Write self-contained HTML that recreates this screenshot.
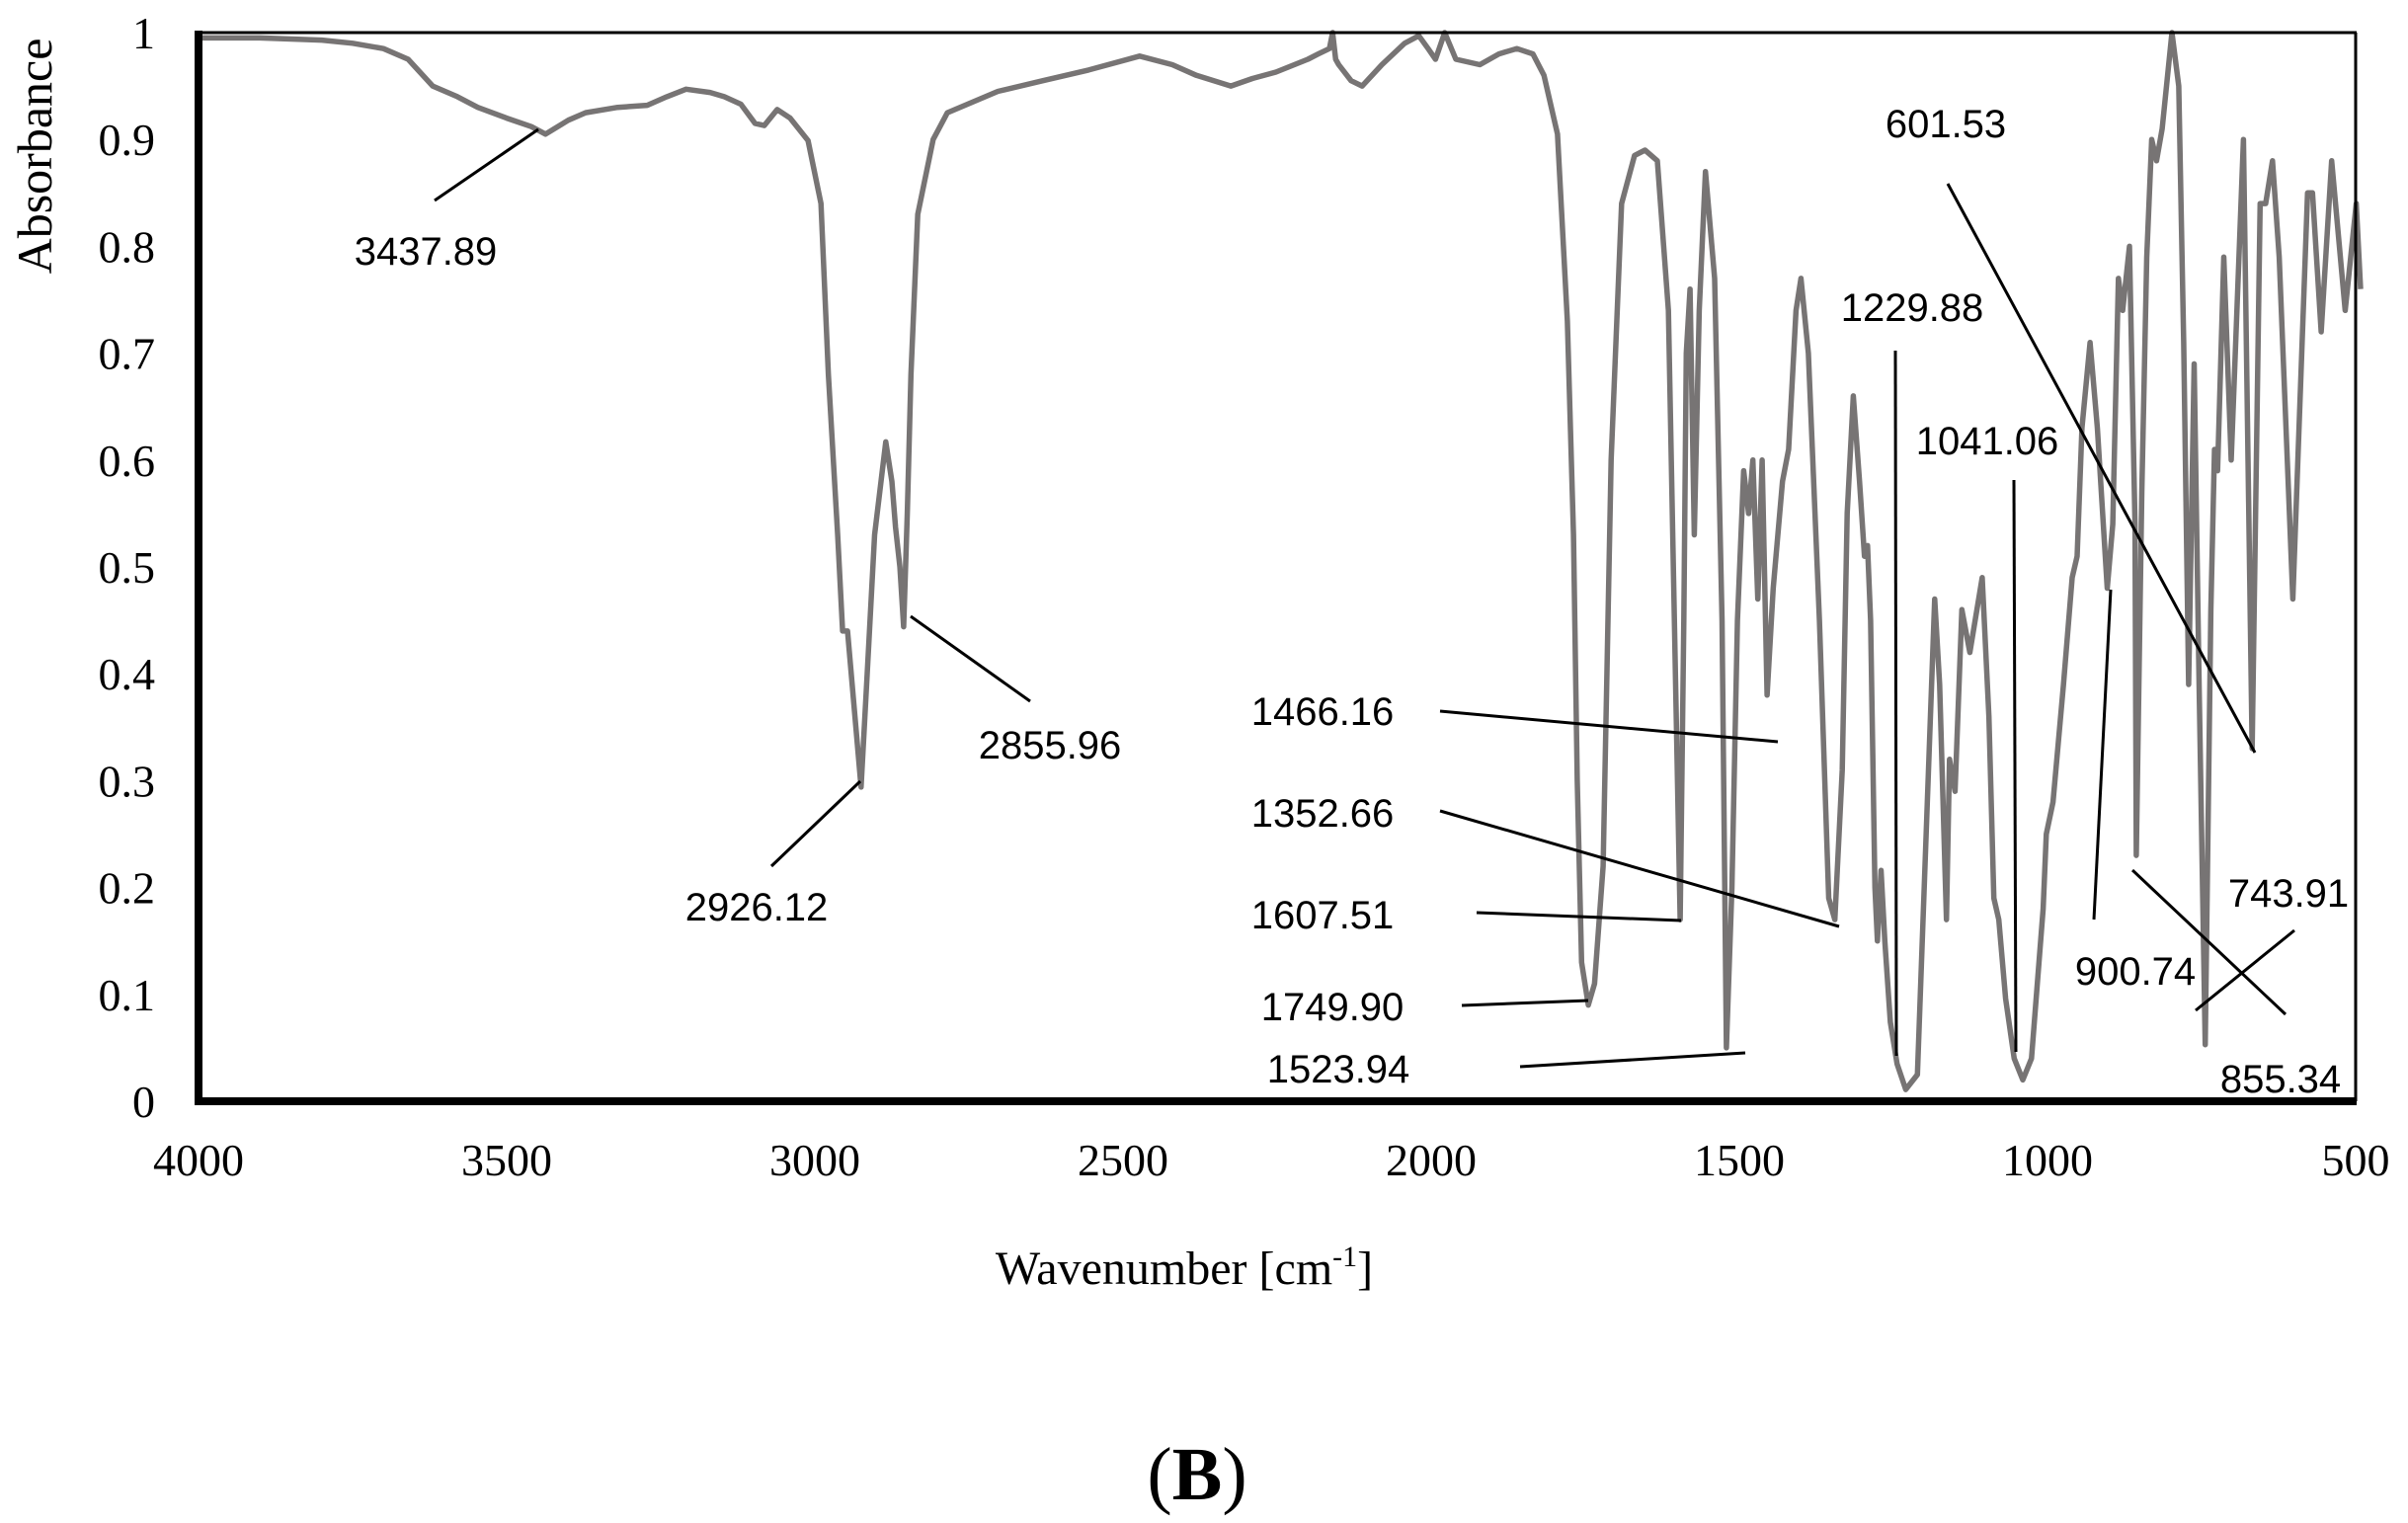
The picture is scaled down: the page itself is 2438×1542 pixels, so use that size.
<!DOCTYPE html>
<html><head><meta charset="utf-8"><style>
html,body{margin:0;padding:0;background:#fff;}
svg{display:block;}
.tick{font-family:"Liberation Serif",serif;font-size:46px;fill:#000;}
.ann{font-family:"Liberation Sans",sans-serif;font-size:40px;fill:#000;}
</style></head><body>
<svg id="chart" width="2438" height="1542" viewBox="0 0 2438 1542" xmlns="http://www.w3.org/2000/svg">
<rect x="0" y="0" width="2438" height="1542" fill="#fff"/>
<g id="spectrum"></g>
<line x1="201" y1="33" x2="2386" y2="33" stroke="#000" stroke-width="3"/>
<line x1="2385" y1="33" x2="2385" y2="1115" stroke="#000" stroke-width="3"/>
<line x1="201" y1="31" x2="201" y2="1119" stroke="#000" stroke-width="8"/>
<line x1="197" y1="1115" x2="2386" y2="1115" stroke="#000" stroke-width="8"/>
<g id="yticks"></g>
<g id="xticks"></g>
<text transform="translate(52,158) rotate(-90)" text-anchor="middle" font-family="Liberation Serif, serif" font-size="50">Absorbance</text>
<text x="1199" y="1300" text-anchor="middle" font-family="Liberation Serif, serif" font-size="48">Wavenumber [cm<tspan dy="-18" font-size="30">-1</tspan><tspan dy="18">]</tspan></text>
<text x="1212" y="1518" text-anchor="middle" font-family="Liberation Serif, serif" font-size="76">(<tspan font-weight="bold">B</tspan>)</text>
<g stroke="#000" stroke-width="3">
<line x1="440" y1="203" x2="545" y2="131"/>
<line x1="781" y1="877" x2="871" y2="791"/>
<line x1="922" y1="624" x2="1043" y2="710"/>
<line x1="1458" y1="720" x2="1800" y2="751"/>
<line x1="1458" y1="821" x2="1862" y2="938"/>
<line x1="1495" y1="924" x2="1702" y2="932"/>
<line x1="1480" y1="1018" x2="1608" y2="1013"/>
<line x1="1539" y1="1080" x2="1767" y2="1066"/>
<line x1="1919" y1="355" x2="1920" y2="1069"/>
<line x1="2039" y1="486" x2="2041" y2="1065"/>
<line x1="1972" y1="186" x2="2283" y2="762"/>
<line x1="2137" y1="597" x2="2120" y2="931"/>
<line x1="2159" y1="881" x2="2314" y2="1027"/>
<line x1="2223" y1="1023" x2="2323" y2="942"/>
</g>
<g text-anchor="middle">
<text class="ann" x="431" y="268">3437.89</text>
<text class="ann" x="766" y="932">2926.12</text>
<text class="ann" x="1063" y="768">2855.96</text>
<text class="ann" x="1339" y="734">1466.16</text>
<text class="ann" x="1339" y="837">1352.66</text>
<text class="ann" x="1339" y="940">1607.51</text>
<text class="ann" x="1349" y="1033">1749.90</text>
<text class="ann" x="1355" y="1096">1523.94</text>
<text class="ann" x="1936" y="325">1229.88</text>
<text class="ann" x="2012" y="460">1041.06</text>
<text class="ann" x="1970" y="139">601.53</text>
<text class="ann" x="2162" y="997">900.74</text>
<text class="ann" x="2309" y="1106">855.34</text>
<text class="ann" x="2317" y="918">743.91</text>
</g>
</svg>
<script>
const wn = [4000,3900,3800,3750,3700,3660,3620,3580,3547,3500,3460,3437,3400,3372,3320,3272,3240,3209,3170,3147,3120,3097,3082,3061,3040,3011,2990,2978,2963,2955,2947,2935,2925,2915,2903,2885,2875,2869,2862,2856,2850,2844,2833,2808,2785,2703,2630,2556,2473,2420,2381,2325,2290,2252,2200,2183,2165,2160,2155,2150,2130,2112,2080,2043,2020,2005,1993,1978,1960,1921,1890,1861,1835,1817,1795,1779,1769,1763,1756,1745,1735,1721,1708,1691,1670,1653,1633,1615,1603,1596,1590,1586,1580,1573,1565,1555,1540,1528,1521,1512,1503,1493,1485,1478,1470,1463,1455,1445,1430,1420,1408,1400,1388,1370,1355,1345,1333,1325,1315,1305,1297,1292,1287,1280,1276,1270,1264,1255,1244,1230,1211,1183,1175,1164,1159,1150,1139,1126,1106,1095,1087,1079,1068,1054,1040,1026,1007,1002,991,974,960,952,944,931,919,903,894,885,878,867,858,856,847,839,831,823,814,798,787,779,771,762,754,744,735,729,724,714,702,682,668,655,646,635,624,602,578,570,556,539,517,499,492];
const ab = [0.995,0.995,0.993,0.99,0.985,0.975,0.95,0.94,0.93,0.92,0.912,0.905,0.918,0.925,0.93,0.932,0.94,0.947,0.944,0.94,0.933,0.915,0.913,0.928,0.92,0.899,0.84,0.68,0.53,0.44,0.44,0.36,0.294,0.40,0.53,0.617,0.58,0.537,0.5,0.444,0.55,0.68,0.83,0.90,0.925,0.945,0.955,0.965,0.978,0.97,0.96,0.95,0.957,0.963,0.975,0.98,0.985,1.0,0.975,0.97,0.955,0.95,0.97,0.99,0.997,0.985,0.975,1.0,0.975,0.97,0.98,0.985,0.98,0.96,0.905,0.73,0.53,0.3,0.13,0.09,0.11,0.22,0.6,0.84,0.885,0.89,0.88,0.74,0.38,0.17,0.45,0.70,0.76,0.53,0.74,0.87,0.77,0.45,0.05,0.2,0.45,0.59,0.55,0.6,0.47,0.6,0.38,0.48,0.58,0.61,0.74,0.77,0.70,0.45,0.19,0.17,0.31,0.55,0.66,0.58,0.51,0.52,0.45,0.2,0.15,0.216,0.15,0.074,0.035,0.011,0.025,0.47,0.39,0.17,0.32,0.29,0.46,0.42,0.49,0.36,0.19,0.17,0.096,0.04,0.02,0.04,0.18,0.25,0.28,0.39,0.49,0.51,0.63,0.71,0.63,0.48,0.54,0.77,0.74,0.80,0.54,0.23,0.57,0.79,0.90,0.88,0.91,1.0,0.95,0.71,0.39,0.69,0.39,0.053,0.46,0.61,0.59,0.79,0.60,0.90,0.33,0.84,0.84,0.88,0.79,0.47,0.85,0.85,0.72,0.88,0.74,0.84,0.76];
const yTicks = ["0","0.1","0.2","0.3","0.4","0.5","0.6","0.7","0.8","0.9","1"];
const xTicks = [4000,3500,3000,2500,2000,1500,1000,500];

const X0 = 201, X1 = 2385, Y0 = 1115, Y1 = 33;
function xScale(w){ return X0 + (4000 - w) / 3500 * (X1 - X0); }
function yScale(a){ return Y0 - a * (Y0 - Y1); }
const NS = "http://www.w3.org/2000/svg";

const sp = document.getElementById("spectrum");
const path = document.createElementNS(NS, "path");
let d = "";
for (let i = 0; i < wn.length; i++) {
  d += (i ? "L" : "M") + xScale(wn[i]).toFixed(1) + "," + yScale(ab[i]).toFixed(1);
}
path.setAttribute("d", d);
path.setAttribute("fill", "none");
path.setAttribute("stroke", "#777474");
path.setAttribute("stroke-width", "5.5");
path.setAttribute("stroke-linejoin", "round");


sp.appendChild(path);

const yg = document.getElementById("yticks");
for (const t of yTicks) {
  const el = document.createElementNS(NS, "text");
  el.setAttribute("x", 157);
  el.setAttribute("y", yScale(parseFloat(t)) + 16);
  el.setAttribute("text-anchor", "end");
  el.setAttribute("class", "tick");
  el.textContent = t;
  
  
  yg.appendChild(el);
}
const xg = document.getElementById("xticks");
for (const t of xTicks) {
  const el = document.createElementNS(NS, "text");
  el.setAttribute("x", xScale(t));
  el.setAttribute("y", 1190);
  el.setAttribute("text-anchor", "middle");
  el.setAttribute("class", "tick");
  el.textContent = t;
  
  
  xg.appendChild(el);
}
</script>
</body></html>
